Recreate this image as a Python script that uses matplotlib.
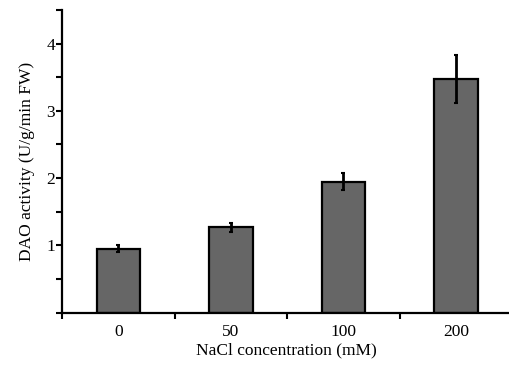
import numpy as np
import matplotlib.pyplot as plt

categories = ["0", "50", "100", "200"]
activity = [0.95, 1.27, 1.95, 3.47]
errors = [0.05, 0.07, 0.13, 0.36]

plt.rcParams["font.family"] = ["Liberation Serif", "DejaVu Serif"]

fig = plt.figure(figsize=(5.1, 3.65), dpi=100)
ax = fig.add_axes([0.122, 0.143, 0.878, 0.83])

x = np.arange(len(categories))
ax.bar(x, activity, width=0.39, color="#666666", edgecolor="black", linewidth=1.6, zorder=2)
ax.errorbar(x, activity, yerr=errors, fmt="none", ecolor="black", elinewidth=2,
            capsize=1.5, capthick=1.5, zorder=3)

ax.set_xlim(-0.5, 3.48)
ax.set_ylim(0, 4.5)

for s in ["top", "right"]:
    ax.spines[s].set_visible(False)
for s in ["left", "bottom"]:
    ax.spines[s].set_linewidth(1.6)

yt = np.arange(0, 4.51, 0.5)
ax.set_yticks(yt)
ax.set_yticklabels([str(int(v)) if v % 1 == 0 and v > 0 else "" for v in yt])
ax.tick_params(axis="y", direction="out", length=4, width=1.5, labelsize=12.5, pad=1)

ax.set_xticks([-0.5, 0.5, 1.5, 2.5])
ax.set_xticklabels([])
ax.set_xticks(x, minor=True)
ax.set_xticklabels(categories, minor=True)
ax.tick_params(axis="x", which="major", direction="out", length=4, width=1.5)
ax.tick_params(axis="x", which="minor", length=0, labelsize=12.5, pad=8)

ax.set_xlabel("NaCl concentration (mM)", fontsize=12.5, labelpad=2)
ax.set_ylabel("DAO activity (U/g/min FW)", fontsize=12.5, labelpad=8)

fig.savefig("out.png", dpi=100)
